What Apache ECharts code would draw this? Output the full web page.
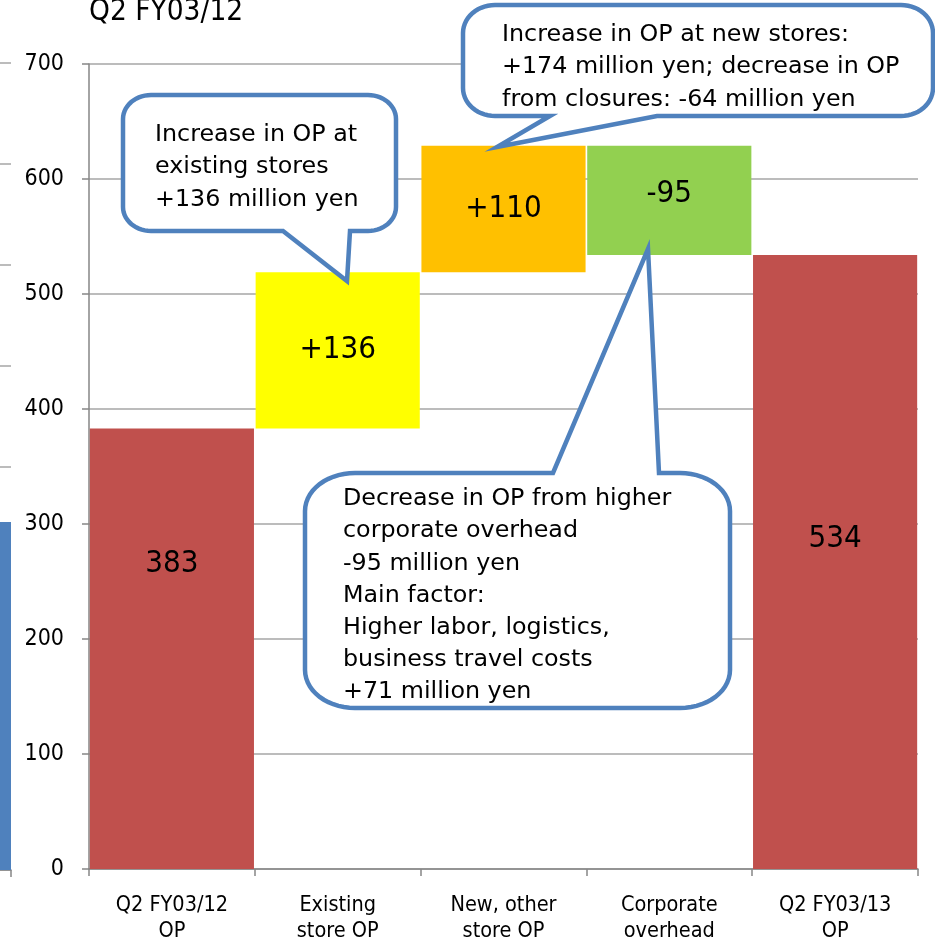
<!DOCTYPE html>
<html>
<head>
<meta charset="utf-8">
<script src="https://cdn.jsdelivr.net/npm/echarts@6/dist/echarts.min.js"></script>
<style>
  html, body { margin: 0; padding: 0; background: #fff; }
  #chart { width: 935px; height: 941px; }
</style>
</head>
<body>
<div id="chart"></div>
<script>
// Operating profit bridge, Q2 FY03/12 -> Q2 FY03/13 (million yen)
const categories = ['Q2 FY03/12\nOP', 'Existing\nstore OP', 'New, other\nstore OP', 'Corporate\noverhead', 'Q2 FY03/13\nOP'];
const startOP = 383;
const endOP = 534;
const changes = [136, 110, -95];
const barColors = ['#C0504D', '#FFFF00', '#FFC000', '#92D050', '#C0504D'];
const yMin = 0, yMax = 700, yStep = 100;

// Edge of the neighbouring chart on the left
const neighbourValues = [345];

const chartFont = "'DejaVu Sans Condensed', 'Liberation Sans', Arial, sans-serif";
const noteFont = "'DejaVu Sans', Verdana, sans-serif";

// Build the floating (invisible) base and the visible segment for each bar
let running = startOP;
const baseVals = [0];
const sizeVals = [startOP];
const labelTexts = [String(startOP)];
changes.forEach(function (c) {
  baseVals.push(c >= 0 ? running : running + c);
  sizeVals.push(Math.abs(c));
  labelTexts.push((c > 0 ? '+' : '') + c);
  running += c;
});
baseVals.push(0);
sizeVals.push(endOP);
labelTexts.push(String(endOP));

const labelPos = [['50%', '30.8%'], ['50%', '50%'], ['50%', '50%'], ['50%', '44.5%'], ['50%', '46.3%']];

// Quarter of an ellipse from angle a0 to a1 around (cx, cy)
function arcPoints(cx, cy, rx, ry, a0, a1) {
  const pts = [];
  const n = 14;
  for (let i = 0; i <= n; i++) {
    const a = a0 + (a1 - a0) * i / n;
    pts.push([cx + rx * Math.cos(a), cy + ry * Math.sin(a)]);
  }
  return pts;
}

// Rounded callout outline with a pointer, as a closed polygon
function calloutPoints(b, t) {
  const x = b.x, y = b.y, r = b.x + b.w, btm = b.y + b.h, rx = b.rx, ry = b.ry;
  const P = Math.PI;
  let pts = [];
  pts.push([x + rx, y]);
  if (t.side === 'top') pts.push([t.a, y], t.tip, [t.c, y]);
  pts = pts.concat(arcPoints(r - rx, y + ry, rx, ry, -P / 2, 0));
  pts = pts.concat(arcPoints(r - rx, btm - ry, rx, ry, 0, P / 2));
  if (t.side === 'bottom') pts.push([t.c, btm], t.tip, [t.a, btm]);
  pts = pts.concat(arcPoints(x + rx, btm - ry, rx, ry, P / 2, P));
  pts = pts.concat(arcPoints(x + rx, y + ry, rx, ry, P, 1.5 * P));
  return pts;
}

const notes = [
  {
    box: { x: 123, y: 95, w: 273, h: 136, rx: 28, ry: 24 },
    tail: { side: 'bottom', a: 283, c: 350, tip: [347, 281] },
    text: 'Increase in OP at\nexisting stores\n+136 million yen',
    tx: 155, ty: 119
  },
  {
    box: { x: 463, y: 5, w: 470, h: 111, rx: 32, ry: 28 },
    tail: { side: 'bottom', a: 550, c: 657, tip: [497, 147] },
    text: 'Increase in OP at new stores:\n+174 million yen; decrease in OP\nfrom closures: -64 million yen',
    tx: 502, ty: 19
  },
  {
    box: { x: 305, y: 473, w: 425, h: 235, rx: 50, ry: 38 },
    tail: { side: 'top', a: 553, c: 659, tip: [648, 249] },
    text: 'Decrease in OP from higher\ncorporate overhead\n-95 million yen\nMain factor:\nHigher labor, logistics,\nbusiness travel costs\n+71 million yen',
    tx: 343, ty: 483
  }
];

const graphics = [];
notes.forEach(function (n) {
  graphics.push({
    type: 'polygon',
    z: 100,
    shape: { points: calloutPoints(n.box, n.tail) },
    style: { fill: '#ffffff', stroke: '#4F81BD', lineWidth: 4.5, lineJoin: 'miter' }
  });
  graphics.push({
    type: 'text',
    z: 101,
    x: n.tx,
    y: n.ty,
    style: {
      text: n.text,
      fill: '#000',
      fontFamily: noteFont,
      fontSize: 23.8,
      lineHeight: 32.2,
      verticalAlign: 'top',
      align: 'left'
    }
  });
});

const chart = echarts.init(document.getElementById('chart'), null, { renderer: 'canvas' });

chart.setOption({
  backgroundColor: '#ffffff',
  animation: false,
  title: {
    text: 'Q2 FY03/12',
    left: 89,
    top: -3,
    padding: 0,
    textStyle: { fontFamily: chartFont, fontSize: 29.5, fontWeight: 'normal', color: '#000' }
  },
  grid: [
    { left: 89, right: 17, top: 64, bottom: 72, outerBoundsMode: 'none', containLabel: false },
    { left: -200, right: 924, top: 63, bottom: 71, outerBoundsMode: 'none', containLabel: false }
  ],
  xAxis: [
    {
      type: 'category',
      gridIndex: 0,
      data: categories,
      axisLine: { lineStyle: { color: '#868686', width: 1.5 } },
      axisTick: { show: true, length: 7, lineStyle: { color: '#868686', width: 1.5 } },
      axisLabel: {
        margin: 23,
        color: '#000',
        fontFamily: chartFont,
        fontSize: 21.5,
        lineHeight: 26,
        interval: 0
      }
    },
    {
      type: 'category',
      gridIndex: 1,
      data: [''],
      axisLine: { lineStyle: { color: '#868686', width: 1.5 } },
      axisTick: { show: true, length: 7, lineStyle: { color: '#868686', width: 1.5 } },
      axisLabel: { show: false }
    }
  ],
  yAxis: [
    {
      type: 'value',
      gridIndex: 0,
      min: yMin,
      max: yMax,
      interval: yStep,
      axisLine: { show: true, lineStyle: { color: '#868686', width: 1.5 } },
      axisTick: { show: true, length: 7, lineStyle: { color: '#868686', width: 1.5 } },
      axisLabel: { margin: 25, color: '#000', fontFamily: chartFont, fontSize: 23 },
      splitLine: { lineStyle: { color: '#A6A6A6', width: 1.5 } }
    },
    {
      type: 'value',
      gridIndex: 1,
      min: 0,
      max: 800,
      interval: 100,
      axisLine: { show: false },
      axisTick: { show: false },
      axisLabel: { show: false },
      splitLine: { lineStyle: { color: '#A6A6A6', width: 1.5 } }
    }
  ],
  series: [
    {
      name: 'base',
      type: 'bar',
      xAxisIndex: 0,
      yAxisIndex: 0,
      stack: 'bridge',
      silent: true,
      barCategoryGap: '1%',
      itemStyle: { color: 'transparent' },
      data: baseVals
    },
    {
      name: 'OP',
      type: 'bar',
      xAxisIndex: 0,
      yAxisIndex: 0,
      stack: 'bridge',
      barCategoryGap: '1%',
      data: sizeVals.map(function (v, i) {
        return {
          value: v,
          itemStyle: { color: barColors[i] },
          label: { position: labelPos[i] }
        };
      }),
      label: {
        show: true,
        align: 'center',
        verticalAlign: 'middle',
        color: '#000',
        fontFamily: chartFont,
        fontSize: 31,
        formatter: function (p) { return labelTexts[p.dataIndex]; }
      }
    },
    {
      name: 'neighbour',
      type: 'bar',
      xAxisIndex: 1,
      yAxisIndex: 1,
      barCategoryGap: '0%',
      itemStyle: { color: '#4F81BD' },
      data: neighbourValues
    }
  ],
  graphic: { elements: graphics }
});
</script>
</body>
</html>
